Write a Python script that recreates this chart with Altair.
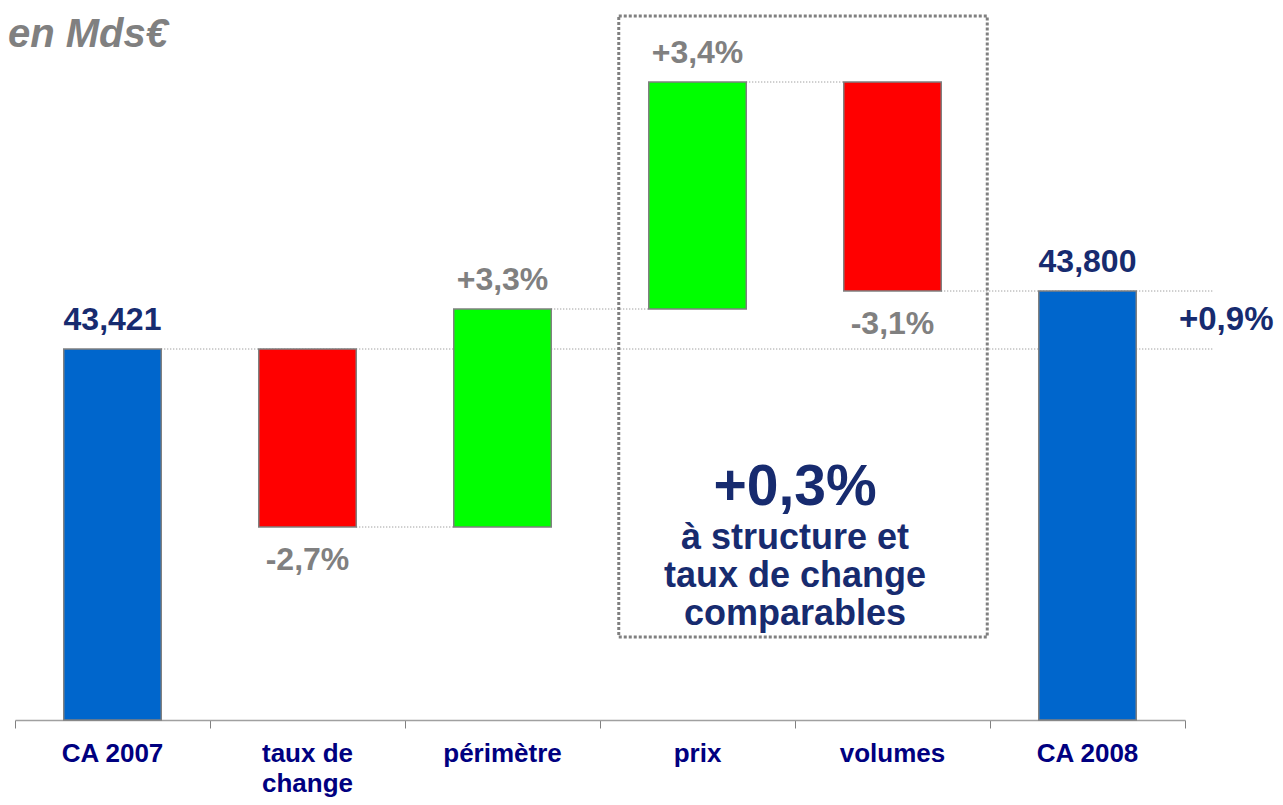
import altair as alt
import pandas as pd

# ---- data (value axis hidden; bars are not to scale) ----
categories = ["CA 2007", "taux de change", "périmètre", "prix", "volumes", "CA 2008"]
tick_labels = ["CA 2007", "taux de\nchange", "périmètre", "prix", "volumes", "CA 2008"]
kinds = ["total", "down", "up", "up", "down", "total"]
# bar heights as drawn (display units above the baseline)
steps = [371, -178, 218, 227, -209, None]
labels = ["43,421", "-2,7%", "+3,3%", "+3,4%", "-3,1%", "43,800"]
total_change = ["+0,9%"]
like_for_like = ["+0,3%"]
like_for_like_text = ["à structure et", "taux de change", "comparables"]
unit_note = ["en Mds€"]

# ---- waterfall table ----
starts, ends = [], []
level = 0
for k, s in zip(kinds, steps):
    if k == "total":
        if s is not None:
            level = s
        starts.append(0)
        ends.append(level)
    else:
        starts.append(level)
        level += s
        ends.append(level)

idx = list(range(len(categories)))
df = pd.DataFrame({"category": categories, "tick": tick_labels, "idx": idx, "kind": kinds,
                   "start": starts, "end": ends, "label": labels})
df["top"] = df[["start", "end"]].max(axis=1)
df["bottom"] = df[["start", "end"]].min(axis=1)

HALF = 0.25  # half bar width, in category steps
short_links = pd.DataFrame({"from": idx[1:4], "to": idx[2:5], "level": ends[1:4]})
long_links = pd.DataFrame({"from": [idx[0], idx[4]], "to": [idx[5], idx[5]],
                           "level": [ends[0], ends[4]]})
change_df = pd.DataFrame({"idx": [idx[5]], "level": [(ends[0] + ends[5]) / 2],
                          "text": total_change})
box_df = pd.DataFrame({"left": [idx[3]], "right": [idx[4]]})
lfl_df = pd.DataFrame({"left": [idx[3]], "right": [idx[4]], "text": like_for_like,
                       "sub": ["\n".join(like_for_like_text)]})
note_df = pd.DataFrame({"note": unit_note})
bounds = [i - 0.5 for i in idx] + [idx[-1] + 0.5]

FONT = "Liberation Sans"
NAVY = "#172B6F"
GREY = "#808080"

x_scale = alt.Scale(domain=[-0.5, len(categories) - 0.5], nice=False, zero=False)
y_scale = alt.Scale(domain=[0, 712], nice=False, zero=False)
x_axis = alt.Axis(title=None, labels=False, values=bounds, grid=False,
                  domainColor="#A0A0A0", domainWidth=1.5, tickColor=GREY,
                  tickSize=8, tickWidth=1)


def X(field):
    return alt.X(field, scale=x_scale, title=None, axis=x_axis)


def Y(field):
    return alt.Y(field, scale=y_scale, title=None, axis=None)


bars = alt.Chart(df).transform_calculate(
    x0=f"datum.idx - {HALF}", x1=f"datum.idx + {HALF}"
).mark_rect(stroke=GREY, strokeWidth=1.5).encode(
    x=X("x0:Q"), x2="x1:Q", y=Y("start:Q"), y2="end:Q",
    color=alt.Color("kind:N", legend=None,
                    scale=alt.Scale(domain=["total", "up", "down"],
                                    range=["#0066CC", "#00FF00", "#FF0000"])),
)

rule_style = dict(color=GREY, strokeWidth=1, strokeDash=[1, 2])
short_rules = alt.Chart(short_links).transform_calculate(
    x0=f"datum['from'] + {HALF}", x1=f"datum['to'] - {HALF}"
).mark_rule(**rule_style).encode(x=X("x0:Q"), x2="x1:Q", y=Y("level:Q"))
long_rules = alt.Chart(long_links).transform_calculate(
    x0=f"datum['from'] + {HALF}", x1=f"datum['to'] + {HALF}"
).mark_rule(x2Offset=76, **rule_style).encode(x=X("x0:Q"), x2="x1:Q", y=Y("level:Q"))

text_color = alt.condition("datum.kind == 'total'", alt.value(NAVY), alt.value(GREY))
labels_above = alt.Chart(df).transform_filter("datum.kind != 'down'").mark_text(
    font=FONT, fontSize=32, fontWeight="bold", baseline="alphabetic", dy=-19,
).encode(x=X("idx:Q"), y=Y("top:Q"), text="label:N", color=text_color)
labels_below = alt.Chart(df).transform_filter("datum.kind == 'down'").mark_text(
    font=FONT, fontSize=32, fontWeight="bold", baseline="alphabetic", dy=43, color=GREY,
).encode(x=X("idx:Q"), y=Y("bottom:Q"), text="label:N")

cat_labels = alt.Chart(df).transform_calculate(
    lines="split(datum.tick, '\\n')"
).mark_text(
    font=FONT, fontSize=26, fontWeight="bold", baseline="top", color="#000080",
    lineHeight=30,
).encode(x=X("idx:Q"), y=alt.value(733), text="lines:N")

change_text = alt.Chart(change_df).transform_calculate(
    xr=f"datum.idx + {HALF}"
).mark_text(
    font=FONT, fontSize=33, fontWeight="bold", baseline="middle", xOffset=90, color=NAVY,
).encode(x=X("xr:Q"), y=Y("level:Q"), text="text:N")

box = alt.Chart(box_df).transform_calculate(
    x0=f"datum.left - {HALF}", x1=f"datum.right + {HALF}"
).mark_rect(
    fill="white", fillOpacity=0, stroke=GREY, strokeWidth=3, strokeDash=[3, 2],
    xOffset=-30, x2Offset=46,
).encode(x=X("x0:Q"), x2="x1:Q", y=alt.value(8), y2=alt.value(629))

lfl_mid = "(datum.left + datum.right) / 2"
lfl_big = alt.Chart(lfl_df).transform_calculate(xm=lfl_mid).mark_text(
    font=FONT, fontSize=57, fontWeight="bold", baseline="middle", color=NAVY,
).encode(x=X("xm:Q"), y=alt.value(480), text="text:N")
lfl_sub = alt.Chart(lfl_df).transform_calculate(
    xm=lfl_mid, lines="split(datum.sub, '\\n')"
).mark_text(
    font=FONT, fontSize=36, fontWeight="bold", baseline="middle", color=NAVY,
    lineHeight=38,
).encode(x=X("xm:Q"), y=alt.value(530), text="lines:N")

note = alt.Chart(note_df).mark_text(
    font=FONT, fontSize=40, fontWeight="bold", fontStyle="italic",
    align="left", baseline="alphabetic", color=GREY,
).encode(x=alt.value(-7), y=alt.value(39), text="note:N")

chart = alt.layer(
    box, short_rules, long_rules, bars, labels_above, labels_below, cat_labels,
    change_text, lfl_big, lfl_sub, note,
).properties(
    width=1170, height=712,
    autosize=alt.AutoSizeParams(type="none"),
    padding={"left": 7, "top": 0, "right": 90, "bottom": 77},
).configure(font=FONT).configure_view(stroke=None)

chart.save("out.html", embed_options={"renderer": "svg", "actions": False})
